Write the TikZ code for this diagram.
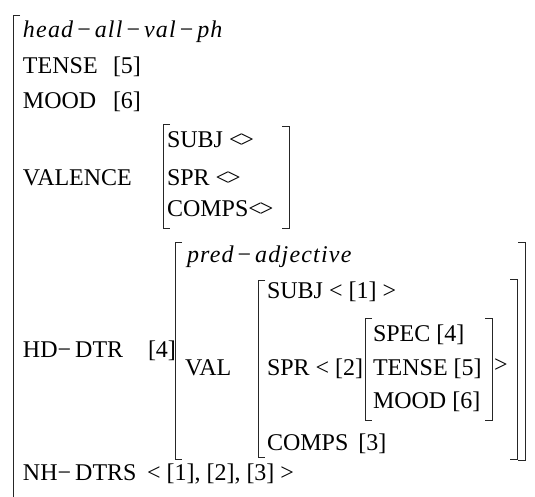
\documentclass[tikz,border=0pt]{standalone}
\usepackage{fontspec}
\setmainfont{Liberation Serif}
\newfontface\typeface[LetterSpace=5]{Liberation Serif Italic}
\newcommand{\elist}{<\kern-0.09em>}
\newcommand{\tp}[1]{{\typeface #1}}
\begin{document}
\begin{tikzpicture}[x=1pt,y=-1pt,
  every node/.style={inner sep=0pt,outer sep=0pt,anchor=base west,
    font=\fontsize{24}{24}\selectfont},
  brk/.style={line width=0.9pt,draw=black!85}]
\useasboundingbox (0,0) rectangle (535,496);

% top-level attributes
\node (type)  at (23,37)  {\tp{head}\,−\,\tp{all}\,−\,\tp{val}\,−\,\tp{ph}};
\node (tense) at (23,73)  {TENSE};
\node (tv)    at (113,73) {[5]};
\node (mood)  at (23,108) {MOOD};
\node (mv)    at (113,108){[6]};
\node (val)   at (23,185) {VALENCE};
\node (vs)    at (167,147){SUBJ \elist};
\node (vp)    at (167,185){SPR \elist};
\node (vc)    at (167,216){COMPS\elist};
\node (hd)    at (23,357) {HD−\,DTR};
\node (hdv)   at (148,357){[4]};
\node (nh)    at (23,480) {NH−\,DTRS};
\node (nhv)   at (147,480){< [1], [2], [3] >};

% head daughter
\node (ptype) at (187,262){\tp{pred}\,−\,\tp{adjective}};
\node (pval)  at (185,375){VAL};
\node (ps)    at (267,298){SUBJ < [1] >};
\node (pp)    at (267,375){SPR < [2]};
\node (pc)    at (267,450){COMPS\, [3]};
\node (sspec) at (373,341){SPEC [4]};
\node (sten)  at (373,375){TENSE [5]};
\node (smood) at (373,408){MOOD [6]};
\node (sgt)   at (494,372){>};

% outer matrix
\draw[brk] (20,15) -- (13.5,15) -- (13.5,497);
% VALENCE value
\draw[brk] (170,124) -- (163,124) -- (163,228) -- (170,228);
\draw[brk] (282,126) -- (289,126) -- (289,228) -- (282,228);
% HD-DTR value
\draw[brk] (182,242) -- (175,242) -- (175,459) -- (182,459);
\draw[brk] (518,242) -- (525,242) -- (525,460) -- (518,460);
% VAL value
\draw[brk] (265,280) -- (258,280) -- (258,457) -- (265,457);
\draw[brk] (510,279) -- (517,279) -- (517,459) -- (510,459);
% specifier
\draw[brk] (372,318) -- (365,318) -- (365,420) -- (372,420);
\draw[brk] (485,318) -- (492,318) -- (492,420) -- (485,420);
\end{tikzpicture}
\end{document}
